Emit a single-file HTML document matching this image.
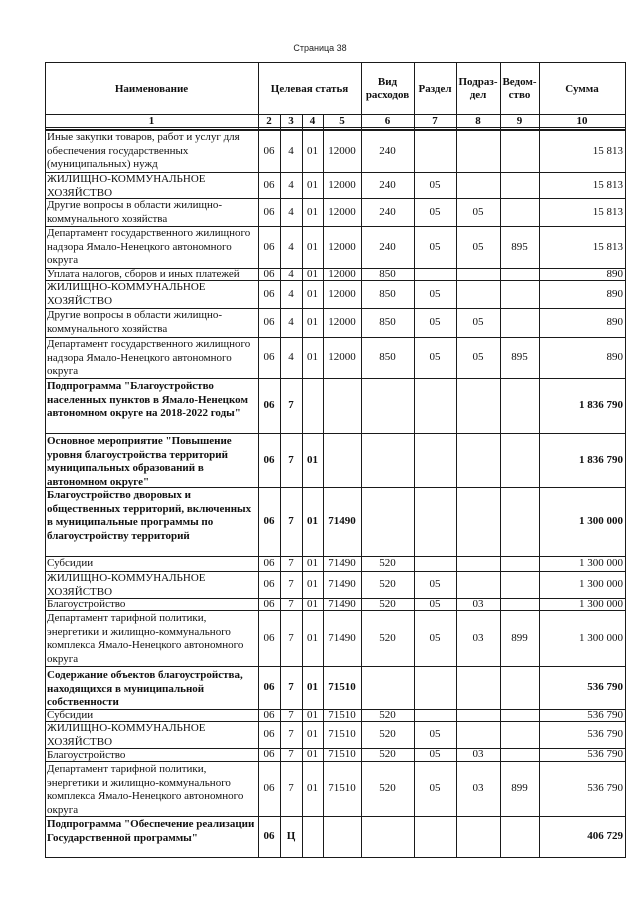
<!DOCTYPE html>
<html><head><meta charset="utf-8">
<style>
html,body{margin:0;padding:0;background:#fff;}
body{width:640px;height:905px;position:relative;overflow:hidden;font-family:"Liberation Serif","Noto Serif CJK SC",serif;color:#111;}
.h{position:absolute;height:1px;background:#1a1a1a;left:45px;width:581px;}
.vl{position:absolute;width:1px;background:#1a1a1a;}
.row{position:absolute;left:0;width:640px;font-size:11px;}
.row>div{position:absolute;top:0;height:100%;display:flex;align-items:center;justify-content:center;line-height:1;}
.row>.k0{display:block;left:47px;width:210px;line-height:13.5px;padding-top:1px;height:auto;white-space:nowrap;}
.k1{left:258px;width:22px}
.k2{left:280px;width:22px}
.k3{left:302px;width:21px}
.k4{left:323px;width:38px}
.k5{left:361px;width:53px}
.k6{left:414px;width:42px}
.k7{left:456px;width:44px}
.k8{left:500px;width:39px}
.row>.k9{left:539px;width:84px;justify-content:flex-end;}
.b{font-weight:bold;}
.hd{position:absolute;font-size:11px;font-weight:bold;text-align:center;line-height:13px;}
</style></head><body>

<div style="position:absolute;left:270px;width:100px;top:43px;text-align:center;font:9px 'Liberation Sans',sans-serif;color:#222;">Страница 38</div>

<!-- horizontal lines -->
<div class="h" style="top:62px"></div>
<div class="h" style="top:114px"></div>
<div class="h" style="top:127px"></div>
<div class="h" style="top:129px;height:2px"></div>
<div class="h" style="top:172px"></div>
<div class="h" style="top:198px"></div>
<div class="h" style="top:226px"></div>
<div class="h" style="top:268px"></div>
<div class="h" style="top:280px"></div>
<div class="h" style="top:308px"></div>
<div class="h" style="top:337px"></div>
<div class="h" style="top:378px"></div>
<div class="h" style="top:433px"></div>
<div class="h" style="top:487px"></div>
<div class="h" style="top:556px"></div>
<div class="h" style="top:571px"></div>
<div class="h" style="top:598px"></div>
<div class="h" style="top:610px"></div>
<div class="h" style="top:666px"></div>
<div class="h" style="top:709px"></div>
<div class="h" style="top:721px"></div>
<div class="h" style="top:748px"></div>
<div class="h" style="top:761px"></div>
<div class="h" style="top:816px"></div>
<div class="h" style="top:857px"></div>

<!-- vertical lines -->
<div class="vl" style="left:45px;top:62px;height:796px"></div>
<div class="vl" style="left:258px;top:62px;height:796px"></div>
<div class="vl" style="left:280px;top:114px;height:744px"></div>
<div class="vl" style="left:302px;top:114px;height:744px"></div>
<div class="vl" style="left:323px;top:114px;height:744px"></div>
<div class="vl" style="left:361px;top:62px;height:796px"></div>
<div class="vl" style="left:414px;top:62px;height:796px"></div>
<div class="vl" style="left:456px;top:62px;height:796px"></div>
<div class="vl" style="left:500px;top:62px;height:796px"></div>
<div class="vl" style="left:539px;top:62px;height:796px"></div>
<div class="vl" style="left:625px;top:62px;height:796px"></div>

<!-- header -->
<div class="hd" style="left:45px;width:213px;top:83px;">Наименование</div>
<div class="hd" style="left:258px;width:103px;top:83px;">Целевая статья</div>
<div class="hd" style="left:361px;width:53px;top:76px;">Вид<br>расходов</div>
<div class="hd" style="left:414px;width:42px;top:83px;">Раздел</div>
<div class="hd" style="left:456px;width:44px;top:76px;">Подраз-<br>дел</div>
<div class="hd" style="left:500px;width:39px;top:76px;">Ведом-<br>ство</div>
<div class="hd" style="left:539px;width:86px;top:83px;">Сумма</div>

<div class="row b" style="top:115px;height:13px;">
<div style="left:45px;width:213px">1</div><div class="k1">2</div><div class="k2">3</div><div class="k3">4</div><div class="k4">5</div><div class="k5">6</div><div class="k6">7</div><div class="k7">8</div><div class="k8">9</div><div style="left:539px;width:86px">10</div>
</div>

<!-- A -->
<div class="row" style="top:130px;height:42px;">
<div class="k0">Иные закупки товаров, работ и услуг для<br>обеспечения государственных<br>(муниципальных) нужд</div>
<div class="k1">06</div><div class="k2">4</div><div class="k3">01</div><div class="k4">12000</div><div class="k5">240</div><div class="k9">15 813</div>
</div>
<!-- B -->
<div class="row" style="top:172px;height:26px;">
<div class="k0">ЖИЛИЩНО-КОММУНАЛЬНОЕ<br>ХОЗЯЙСТВО</div>
<div class="k1">06</div><div class="k2">4</div><div class="k3">01</div><div class="k4">12000</div><div class="k5">240</div><div class="k6">05</div><div class="k9">15 813</div>
</div>
<!-- C -->
<div class="row" style="top:198px;height:28px;">
<div class="k0">Другие вопросы в области жилищно-<br>коммунального хозяйства</div>
<div class="k1">06</div><div class="k2">4</div><div class="k3">01</div><div class="k4">12000</div><div class="k5">240</div><div class="k6">05</div><div class="k7">05</div><div class="k9">15 813</div>
</div>
<!-- D -->
<div class="row" style="top:226px;height:42px;">
<div class="k0">Департамент государственного жилищного<br>надзора Ямало-Ненецкого автономного<br>округа</div>
<div class="k1">06</div><div class="k2">4</div><div class="k3">01</div><div class="k4">12000</div><div class="k5">240</div><div class="k6">05</div><div class="k7">05</div><div class="k8">895</div><div class="k9">15 813</div>
</div>
<!-- E -->
<div class="row" style="top:268px;height:12px;">
<div class="k0" style="top:-1px">Уплата налогов, сборов и иных платежей</div>
<div class="k1">06</div><div class="k2">4</div><div class="k3">01</div><div class="k4">12000</div><div class="k5">850</div><div class="k9">890</div>
</div>
<!-- F -->
<div class="row" style="top:280px;height:28px;">
<div class="k0">ЖИЛИЩНО-КОММУНАЛЬНОЕ<br>ХОЗЯЙСТВО</div>
<div class="k1">06</div><div class="k2">4</div><div class="k3">01</div><div class="k4">12000</div><div class="k5">850</div><div class="k6">05</div><div class="k9">890</div>
</div>
<!-- G -->
<div class="row" style="top:308px;height:29px;">
<div class="k0">Другие вопросы в области жилищно-<br>коммунального хозяйства</div>
<div class="k1">06</div><div class="k2">4</div><div class="k3">01</div><div class="k4">12000</div><div class="k5">850</div><div class="k6">05</div><div class="k7">05</div><div class="k9">890</div>
</div>
<!-- H -->
<div class="row" style="top:337px;height:41px;">
<div class="k0">Департамент государственного жилищного<br>надзора Ямало-Ненецкого автономного<br>округа</div>
<div class="k1">06</div><div class="k2">4</div><div class="k3">01</div><div class="k4">12000</div><div class="k5">850</div><div class="k6">05</div><div class="k7">05</div><div class="k8">895</div><div class="k9">890</div>
</div>
<!-- I -->
<div class="row b" style="top:378px;height:55px;">
<div class="k0" style="padding-top:2px">Подпрограмма "Благоустройство<br>населенных пунктов в Ямало-Ненецком<br>автономном округе на 2018-2022 годы"</div>
<div class="k1">06</div><div class="k2">7</div><div class="k9">1 836 790</div>
</div>
<!-- J -->
<div class="row b" style="top:433px;height:54px;">
<div class="k0" style="padding-top:2px">Основное мероприятие "Повышение<br>уровня благоустройства территорий<br>муниципальных образований в<br>автономном округе"</div>
<div class="k1">06</div><div class="k2">7</div><div class="k3">01</div><div class="k9">1 836 790</div>
</div>
<!-- K -->
<div class="row b" style="top:487px;height:69px;">
<div class="k0" style="padding-top:2px">Благоустройство дворовых и<br>общественных территорий, включенных<br>в муниципальные программы по<br>благоустройству территорий</div>
<div class="k1">06</div><div class="k2">7</div><div class="k3">01</div><div class="k4">71490</div><div class="k9">1 300 000</div>
</div>
<!-- L -->
<div class="row" style="top:556px;height:15px;">
<div class="k0" style="top:0px">Субсидии</div>
<div class="k1">06</div><div class="k2">7</div><div class="k3">01</div><div class="k4">71490</div><div class="k5">520</div><div class="k9">1 300 000</div>
</div>
<!-- M -->
<div class="row" style="top:571px;height:27px;">
<div class="k0">ЖИЛИЩНО-КОММУНАЛЬНОЕ<br>ХОЗЯЙСТВО</div>
<div class="k1">06</div><div class="k2">7</div><div class="k3">01</div><div class="k4">71490</div><div class="k5">520</div><div class="k6">05</div><div class="k9">1 300 000</div>
</div>
<!-- N -->
<div class="row" style="top:598px;height:12px;">
<div class="k0" style="top:-1px">Благоустройство</div>
<div class="k1">06</div><div class="k2">7</div><div class="k3">01</div><div class="k4">71490</div><div class="k5">520</div><div class="k6">05</div><div class="k7">03</div><div class="k9">1 300 000</div>
</div>
<!-- O -->
<div class="row" style="top:610px;height:56px;">
<div class="k0" style="padding-top:2px">Департамент тарифной политики,<br>энергетики и жилищно-коммунального<br>комплекса Ямало-Ненецкого автономного<br>округа</div>
<div class="k1">06</div><div class="k2">7</div><div class="k3">01</div><div class="k4">71490</div><div class="k5">520</div><div class="k6">05</div><div class="k7">03</div><div class="k8">899</div><div class="k9">1 300 000</div>
</div>
<!-- P -->
<div class="row b" style="top:666px;height:43px;">
<div class="k0" style="padding-top:3px">Содержание объектов благоустройства,<br>находящихся в муниципальной<br>собственности</div>
<div class="k1">06</div><div class="k2">7</div><div class="k3">01</div><div class="k4">71510</div><div class="k9">536 790</div>
</div>
<!-- Q -->
<div class="row" style="top:709px;height:12px;">
<div class="k0" style="top:-1px">Субсидии</div>
<div class="k1">06</div><div class="k2">7</div><div class="k3">01</div><div class="k4">71510</div><div class="k5">520</div><div class="k9">536 790</div>
</div>
<!-- R -->
<div class="row" style="top:721px;height:27px;">
<div class="k0">ЖИЛИЩНО-КОММУНАЛЬНОЕ<br>ХОЗЯЙСТВО</div>
<div class="k1">06</div><div class="k2">7</div><div class="k3">01</div><div class="k4">71510</div><div class="k5">520</div><div class="k6">05</div><div class="k9">536 790</div>
</div>
<!-- S -->
<div class="row" style="top:748px;height:13px;">
<div class="k0" style="top:-0.5px">Благоустройство</div>
<div class="k1">06</div><div class="k2">7</div><div class="k3">01</div><div class="k4">71510</div><div class="k5">520</div><div class="k6">05</div><div class="k7">03</div><div class="k9">536 790</div>
</div>
<!-- T -->
<div class="row" style="top:761px;height:55px;">
<div class="k0" style="padding-top:2px">Департамент тарифной политики,<br>энергетики и жилищно-коммунального<br>комплекса Ямало-Ненецкого автономного<br>округа</div>
<div class="k1">06</div><div class="k2">7</div><div class="k3">01</div><div class="k4">71510</div><div class="k5">520</div><div class="k6">05</div><div class="k7">03</div><div class="k8">899</div><div class="k9">536 790</div>
</div>
<!-- U -->
<div class="row b" style="top:816px;height:41px;">
<div class="k0" style="padding-top:2px">Подпрограмма "Обеспечение реализации<br>Государственной программы"</div>
<div class="k1">06</div><div class="k2">Ц</div><div class="k9">406 729</div>
</div>

</body></html>
